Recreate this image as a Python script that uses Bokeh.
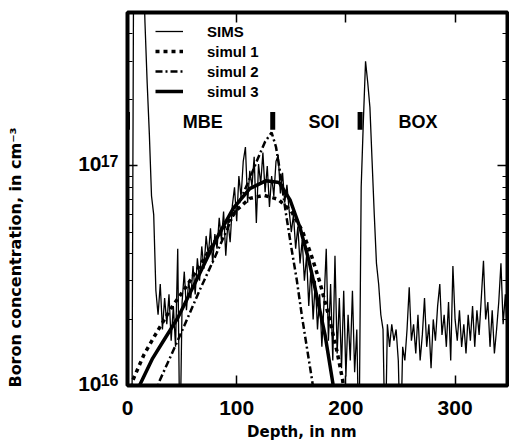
import numpy as np
from bokeh.plotting import figure
from bokeh.models import (Range1d, LinearAxis, LogAxis, FixedTicker, Legend,
                          LegendItem, Label, CustomJSTickFormatter)
from bokeh.embed import file_html
from bokeh.resources import INLINE

# ---------------- data (concentrations in units of 1e16 cm^-3) ----------------
sims_depth_nm = list(range(0, 350, 2))
sims_conc_e16 = [
    0.5, 0.5, 0.5, 300, 300, 300, 200, 100, 45, 24,          # 0-18
    14, 7.3, 6.0, 2.7, 2.1, 2.9, 1.8, 2.5, 1.9, 2.6,         # 20-38
    1.6, 2.3, 1.5, 4.2, 0.5, 2.4, 3.3, 2.2, 3.0, 2.5,        # 40-58
    3.5, 2.6, 3.8, 3.0, 4.3, 3.4, 4.8, 3.9, 5.2, 3.6,        # 60-78
    4.9, 4.2, 5.8, 4.6, 6.2, 3.9, 5.6, 4.5, 6.6, 8.0,        # 80-98
    5.6, 9.0, 7.2, 10.5, 12.2, 6.8, 9.5, 8.1, 11.0, 5.5,     # 100-118
    10.2, 8.3, 11.5, 7.6, 10.0, 6.5, 9.0, 7.3, 10.5, 11.2,   # 120-138
    7.5, 9.3, 6.8, 8.2, 6.3, 5.0, 6.0, 4.2, 5.3, 3.6,        # 140-158
    4.6, 3.0, 3.9, 2.3, 3.4, 2.0, 3.0, 1.8, 2.6, 1.5,        # 160-178
    2.4, 4.2, 1.6, 2.9, 1.3, 3.9, 1.4, 2.5, 1.2, 2.7,        # 180-198
    1.1, 2.1, 1.3, 2.7, 1.15, 1.8, 0.5, 8.0, 16, 30,         # 200-218
    24, 18.5, 10.5, 6.0, 3.6, 2.9, 2.1, 1.8, 0.5, 1.9,       # 220-238
    1.5, 1.9, 1.6, 1.8, 1.3, 0.5, 1.5, 1.3, 1.8, 2.8,        # 240-258
    1.6, 1.9, 1.4, 2.1, 1.3, 1.7, 2.5, 1.5, 1.9, 1.2,        # 260-278
    2.0, 1.6, 2.3, 2.9, 1.7, 2.1, 1.5, 2.4, 1.3, 3.5,        # 280-298
    2.0, 1.6, 2.2, 1.5, 1.9, 1.4, 2.1, 1.6, 2.3, 1.5,        # 300-318
    2.2, 1.7, 2.5, 3.7, 2.0, 2.4, 1.5, 2.2, 1.4, 1.8,        # 320-338
    2.4, 3.6, 1.9, 2.6, 1.6,                                 # 340-348
]

simul1_depth_nm = [3, 5, 15, 26, 40, 55, 70, 85, 100, 112, 125, 138, 150, 160,
                   168, 176, 185, 192, 197, 199]
simul1_conc_e16 = [0.9, 1.06, 1.38, 1.72, 2.25, 2.88, 3.77, 4.97, 6.30, 7.12,
                   7.35, 7.05, 6.23, 5.08, 3.97, 2.97, 2.01, 1.42, 1.06, 0.9]

simul2_depth_nm = [26, 29, 40, 52, 66, 80, 95, 110, 118, 126, 132, 136, 140,
                   145, 150, 155, 160, 164, 169, 171]
simul2_conc_e16 = [0.9, 1.04, 1.375, 1.87, 2.71, 3.84, 5.68, 8.31, 10.4, 12.9,
                   14.2, 12.2, 9.21, 6.11, 4.26, 3.03, 2.03, 1.52, 1.06, 0.9]

simul3_depth_nm = [8, 11, 23, 32, 46, 66, 82, 97, 112, 127, 139, 149, 158, 166,
                   173, 181, 188, 190]
simul3_conc_e16 = [0.88, 1.00, 1.33, 1.57, 2.03, 3.23, 4.72, 6.43, 7.89, 8.57,
                   8.40, 6.98, 5.23, 3.73, 2.60, 1.69, 1.03, 0.85]

region_names = ["MBE", "SOI", "BOX"]
region_center_nm = [69, 180, 266]
interface_depth_nm = [0, 133, 213]
x_ticks = [0, 100, 200, 300]
y_ticks = [1e16, 1e17]
y_tick_mantissa = "10"
y_tick_exponents = ["16", "17"]
y_minor_ticks_e16 = [2, 3, 4, 5, 6, 7, 8, 9, 20, 30, 40]

UNIT = 1e16
to_conc = lambda arr: [v * UNIT for v in arr]

HELV = "Liberation Sans"
NBSP = "\u00a0"

p = figure(width=509, height=443, x_range=Range1d(0, 348),
           y_range=Range1d(1e16, 5e17), y_axis_type="log",
           output_backend="svg", toolbar_location=None,
           min_border_left=127, min_border_right=2, min_border_top=12,
           min_border_bottom=52, background_fill_color="white",
           border_fill_color="white")
p.grid.visible = False
p.outline_line_color = "black"
p.outline_line_width = 4
p.outline_line_alpha = 1


def style(ax, ticker, labels, ticks=True):
    ax.ticker = ticker
    ax.axis_line_color = None
    ax.major_tick_in = 10
    ax.major_tick_out = 0
    ax.minor_tick_in = 5
    ax.minor_tick_out = 0
    ax.major_tick_line_width = 1.5
    ax.minor_tick_line_width = 1.2
    ax.major_tick_line_color = "black" if ticks else None
    ax.minor_tick_line_color = "black" if ticks else None
    if not labels:
        ax.formatter = CustomJSTickFormatter(code="return ''")
        ax.major_label_standoff = 0
        ax.major_label_text_font_size = "0px"


def y_ticker():
    return FixedTicker(ticks=y_ticks, minor_ticks=[v * UNIT for v in y_minor_ticks_e16])


def label_formatter(labels):
    return CustomJSTickFormatter(args=dict(labs=labels),
                                 code="return labs[index] === undefined ? '' : labs[index];")


bx = p.xaxis[0]
style(bx, FixedTicker(ticks=x_ticks), True)
bx.major_label_text_font = HELV
bx.major_label_text_font_style = "bold"
bx.major_label_text_font_size = "21px"
bx.major_label_text_color = "black"
bx.major_label_standoff = 15
bx.axis_label = "Depth, in nm" + NBSP * 6
bx.axis_label_text_font = "DejaVu Sans"
bx.axis_label_text_font_style = "bold"
bx.axis_label_text_font_size = "15px"
bx.axis_label_text_color = "black"
bx.axis_label_standoff = 5

# inner left axis: tick marks only
ly = p.yaxis[0]
style(ly, y_ticker(), False)

# middle left axis: exponent (superscript), raised slightly above the tick
sup_shift = 10 ** (5.5 / 224)
ax_sup = LogAxis()
style(ax_sup, FixedTicker(ticks=[t * sup_shift for t in y_ticks], minor_ticks=[]),
      True, ticks=False)
ax_sup.formatter = label_formatter(y_tick_exponents)
ax_sup.major_label_text_font = HELV
ax_sup.major_label_text_font_style = "bold"
ax_sup.major_label_text_font_size = "16px"
ax_sup.major_label_text_color = "black"
ax_sup.major_label_standoff = 9
p.add_layout(ax_sup, "left")

# outer left axis: mantissa "10" and the axis title
man_shift = 10 ** (1.5 / 224)
ax_man = LogAxis()
style(ax_man, FixedTicker(ticks=[t * man_shift for t in y_ticks], minor_ticks=[]),
      True, ticks=False)
ax_man.formatter = label_formatter([y_tick_mantissa] * len(y_ticks))
ax_man.major_label_text_font = HELV
ax_man.major_label_text_font_style = "bold"
ax_man.major_label_text_font_size = "21px"
ax_man.major_label_text_color = "black"
ax_man.major_label_standoff = -4
ax_man.axis_label = "Boron concentration, in cm\u207b\u00b3" + NBSP * 21
ax_man.axis_label_text_font = "DejaVu Sans"
ax_man.axis_label_text_font_style = "bold"
ax_man.axis_label_text_font_size = "16px"
ax_man.axis_label_text_color = "black"
ax_man.axis_label_standoff = 50
p.add_layout(ax_man, "left")

top = LinearAxis()
style(top, FixedTicker(ticks=x_ticks), False)
p.add_layout(top, "above")
right = LogAxis()
style(right, y_ticker(), False)
p.add_layout(right, "right")

# ---------------- curves ----------------
r_sims = p.line(sims_depth_nm, to_conc(sims_conc_e16), line_color="black",
                line_width=1.3)
r_s1 = p.line(simul1_depth_nm, to_conc(simul1_conc_e16), line_color="black",
              line_width=3.5, line_dash="4 4")
r_s2 = p.line(simul2_depth_nm, to_conc(simul2_conc_e16), line_color="black",
              line_width=2.5, line_dash="7 3 2 3")
r_s3 = p.line(simul3_depth_nm, to_conc(simul3_conc_e16), line_color="black",
              line_width=3.5)

# interface markers
mk_lo = [14.6 * UNIT] * len(interface_depth_nm)
mk_hi = [17.6 * UNIT] * len(interface_depth_nm)
p.segment(x0=interface_depth_nm, y0=mk_lo, x1=interface_depth_nm, y1=mk_hi,
          line_color="black", line_width=5, line_cap="butt")

for name, cx in zip(region_names, region_center_nm):
    p.add_layout(Label(x=cx, y=15.9 * UNIT, text=name, text_align="center",
                       text_baseline="alphabetic", text_font=HELV,
                       text_font_style="bold", text_font_size="18px",
                       text_color="black"))

legend = Legend(items=[LegendItem(label="SIMS", renderers=[r_sims]),
                       LegendItem(label="simul 1", renderers=[r_s1]),
                       LegendItem(label="simul 2", renderers=[r_s2]),
                       LegendItem(label="simul 3", renderers=[r_s3])],
                location=(28, 285), border_line_color=None,
                background_fill_alpha=0, padding=0, margin=0, spacing=2,
                label_height=18, glyph_height=18, glyph_width=28,
                label_standoff=24, label_text_font=HELV,
                label_text_font_style="bold", label_text_font_size="15px",
                label_text_color="black")
p.add_layout(legend)

open("out.html", "w", encoding="utf-8").write(file_html(p, INLINE))
